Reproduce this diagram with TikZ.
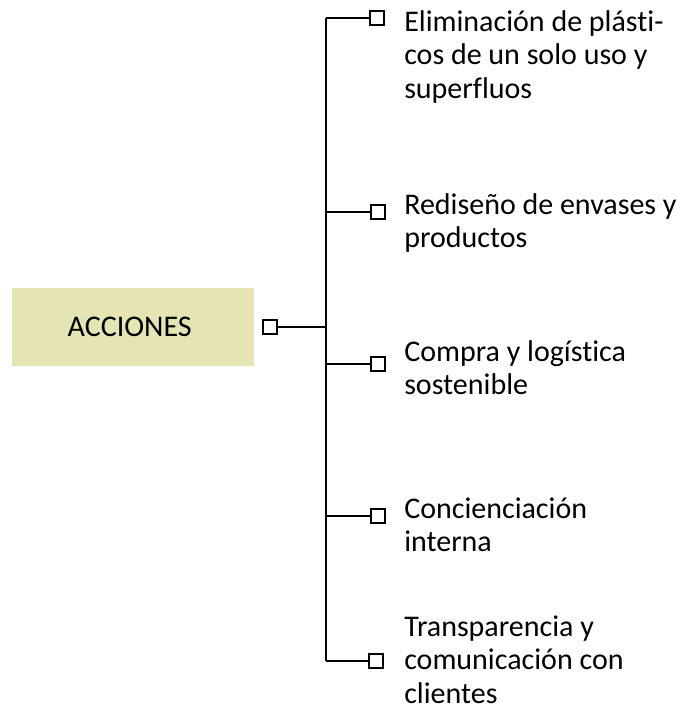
\documentclass[tikz,border=0pt]{standalone}
\usepackage{fontspec}
\setmainfont{Carlito}[Ligatures={NoCommon,NoContextual}]
\definecolor{boxfill}{HTML}{E4E4B4}
\newcommand{\nl}{\kern0pt\relax}
\begin{document}
\begin{tikzpicture}[x=0.75pt,y=-0.75pt,
  lbl/.style={anchor=north west,inner sep=0pt,align=left,font=\fontsize{22.5}{25}\selectfont},
  sq/.style={draw,line width=1.5pt,minimum size=10.5pt,inner sep=0pt,fill=white},
  conn/.style={line width=1.5pt}]
\useasboundingbox (0,0) rectangle (677,708);
\node[fill=boxfill,minimum width=181.5pt,minimum height=58.5pt,inner sep=0pt,font=\fontsize{22.5}{25}\selectfont] (root) at (133,327) {\hspace*{-5pt}ACCIONES};
\node[sq] (rs) at (269.5,326.5) {};
\coordinate (j) at (325.5,326.5);
\coordinate (t1) at (325.5,17.5);
\coordinate (t5) at (325.5,661);
\draw[conn] (rs) -- (j);
\draw[conn] (t1) -- (t5);
\node[sq] (s1) at (377,17.5) {};
\node[sq] (s2) at (378,211.5) {};
\node[sq] (s3) at (378,364) {};
\node[sq] (s4) at (378,515.5) {};
\node[sq] (s5) at (376,661) {};
\draw[conn] (t1) -- (s1);
\draw[conn] (325.5,211.5) coordinate (t2) -- (s2);
\draw[conn] (325.5,364) coordinate (t3) -- (s3);
\draw[conn] (325.5,515.5) coordinate (t4) -- (s4);
\draw[conn] (t5) -- (s5);
\node[lbl] (l1) at (404,7.9) {\strut Eliminación de plást\nl i-\\cos de un solo uso y\\superf\nl luos};
\node[lbl] (l2) at (404,190.9) {\strut Rediseño de envases y\\productos};
\node[lbl] (l3) at (404,337.9) {\strut Compra y logíst\nl ica\\sostenible};
\node[lbl] (l4) at (404,494.6) {\strut Concienciación\\interna};
\node[lbl] (l5) at (404,612.9) {\strut Transparencia y\\comunicación con\\clientes};
\end{tikzpicture}
\end{document}
